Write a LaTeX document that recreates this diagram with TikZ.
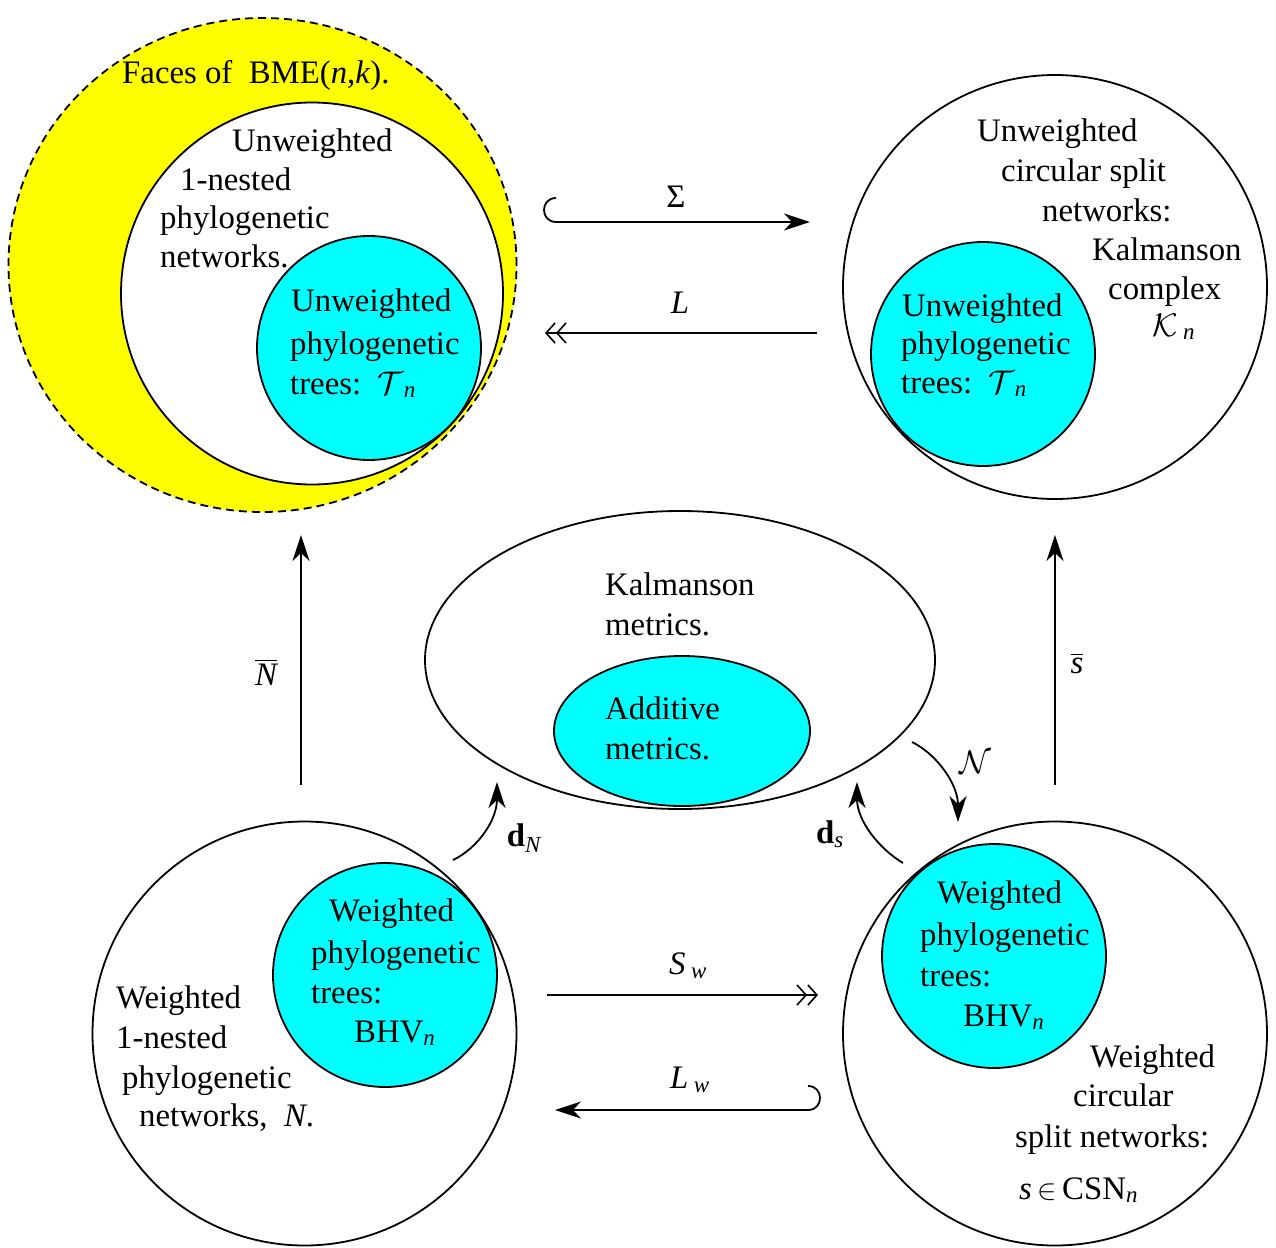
\documentclass[tikz,border=0pt]{standalone}
\usepackage{amsmath}
\usepackage{fontspec}
\setmainfont{Liberation Serif}
\usepackage{graphicx}
\usetikzlibrary{arrows.meta,shapes.geometric}
\definecolor{myyellow}{RGB}{255,255,0}
\definecolor{mycyan}{RGB}{0,255,255}
\newcommand{\mybigmath}[2][3.28]{\scalebox{#1}{\fontsize{10}{12}\selectfont$#2$}}
\begin{document}
\begin{tikzpicture}[x=1pt,y=-1pt,
  every node/.style={font=\fontsize{32.8}{38}\selectfont},
  ring/.style={circle,draw,line width=1.8pt,inner sep=0pt},
  oval/.style={ellipse,draw,line width=1.8pt,inner sep=0pt},
  lbl/.style={anchor=base west,inner sep=0pt},
  arr/.style={line width=1.8pt,-{Stealth[length=26pt,width=17pt,inset=8pt]}},
  darr/.style={line width=1.8pt,-{Straight Barb[length=9pt,width=20pt,line width=1.6pt] Straight Barb[length=9pt,width=20pt,line width=1.6pt]}},
]
\useasboundingbox (0,0) rectangle (1276,1247);

% top left
\node[oval, dash pattern=on 8pt off 5pt, fill=myyellow, minimum width=508pt, minimum height=494pt] (faces) at (262.5,265) {};
\node[ring, fill=white, minimum size=382pt] (unw1n) at (312,293.5) {};
\node[ring, fill=mycyan, minimum size=224pt] (treesTL) at (369,348) {};
\node[lbl] at (122,83) {Faces of\ \ BME(\textit{n},\textit{k}).};
\node[lbl] at (232,151) {Unweighted};
\node[lbl] at (180,190) {1-nested};
\node[lbl] at (160,228) {phylogenetic};
\node[lbl] at (160,267) {networks.};
\node[lbl] at (291,311) {Unweighted};
\node[lbl] at (290,354) {phylogenetic};
\node[lbl] at (290,394) {trees:\ \ \mybigmath{\mathcal{T}}$_{\textit{n}}$};

% top right
\node[ring, minimum size=424pt] (csnTR) at (1055,287) {};
\node[ring, fill=mycyan, minimum size=224pt] (treesTR) at (983,354) {};
\node[lbl] at (977,141) {Unweighted};
\node[lbl] at (1001,181) {circular split};
\node[lbl] at (1042,221) {networks:};
\node[lbl] at (1092,260) {Kalmanson};
\node[lbl] at (1108,299) {complex};
\node[lbl] at (1152,336) {\mybigmath{\mathcal{K}}\,$_{\textit{n}}$};
\node[lbl] at (902,316) {Unweighted};
\node[lbl] at (901,354) {phylogenetic};
\node[lbl] at (901,393) {trees:\ \ \mybigmath{\mathcal{T}}$_{\textit{n}}$};

% middle
\node[oval, fill=white, minimum width=510pt, minimum height=298pt] (kal) at (680,660) {};
\node[oval, fill=mycyan, minimum width=256pt, minimum height=150pt] (add) at (682,731) {};
\node[lbl] at (605,595) {Kalmanson};
\node[lbl] at (605,635) {metrics.};
\node[lbl] at (605,719) {Additive};
\node[lbl] at (605,759) {metrics.};

% bottom left
\node[ring, minimum size=424pt] (netBL) at (304.5,1033.5) {};
\node[ring, fill=mycyan, minimum size=224pt] (treesBL) at (385,975) {};
\node[lbl] at (116,1008) {Weighted};
\node[lbl] at (116,1048) {1-nested};
\node[lbl] at (122,1088) {phylogenetic};
\node[lbl] at (139,1126) {networks,\ \ \textit{N}.};
\node[lbl] at (329,921) {Weighted};
\node[lbl] at (311,963) {phylogenetic};
\node[lbl] at (311,1003) {trees:};
\node[lbl] at (354,1042) {BHV$_{\textit{n}}$};

% bottom right
\node[ring, minimum size=424pt] (csnBR) at (1055,1033.5) {};
\node[ring, fill=mycyan, minimum size=224pt] (treesBR) at (994,956) {};
\node[lbl] at (937,903) {Weighted};
\node[lbl] at (920,945) {phylogenetic};
\node[lbl] at (920,986) {trees:};
\node[lbl] at (963,1026) {BHV$_{\textit{n}}$};
\node[lbl] at (1090,1067) {Weighted};
\node[lbl] at (1073,1106) {circular};
\node[lbl] at (1015,1147) {split networks:};
\node[lbl] at (1019,1199) {\textit{s}\,\mybigmath[2.9]{\in}\,CSN$_{\textit{n}}$};

% horizontal arrows
\coordinate (sigS) at (556,198);
\coordinate (sigA) at (556,222);
\coordinate (sigE) at (810,222);
\draw[arr] (sigS) .. controls (540,198) and (540,222) .. (sigA) -- (sigE);
\node (sigL) at (676,197) {Σ};

\coordinate (lS) at (817,333);
\coordinate (lE) at (545,333);
\draw[darr] (lS) -- (lE);
\node (lL) at (680,303) {\textit{L}};

\coordinate (swS) at (547,995);
\coordinate (swE) at (818,995);
\draw[darr] (swS) -- (swE);
\node (swL) at (688,966) {\textit{S}\,$_{\textit{w}}$};

\coordinate (lwS) at (808,1086);
\coordinate (lwA) at (808,1110);
\coordinate (lwE) at (555,1110);
\draw[arr] (lwS) .. controls (824,1086) and (824,1110) .. (lwA) -- (lwE);
\node (lwL) at (690,1080) {\textit{L}\,$_{\textit{w}}$};

% vertical arrows
\coordinate (nbS) at (301,785);
\coordinate (nbE) at (301,535);
\draw[arr] (nbS) -- (nbE);
\node (nbL) at (266,672) {$\overline{\textit{N}}$};

\coordinate (sbS) at (1055,785);
\coordinate (sbE) at (1055,535);
\draw[arr] (sbS) -- (sbE);
\node (sbL) at (1077,663) {$\overline{\textit{s}}$};

% curved arrows
\coordinate (dnS) at (453,860);
\coordinate (dnE) at (497,782);
\draw[arr] (dnS) .. controls (478,848) and (497,820) .. (dnE);
\node (dnL) at (524,838) {\textbf{d}$_{\textit{N}}$};

\coordinate (dsS) at (903,863);
\coordinate (dsE) at (857,782);
\draw[arr] (dsS) .. controls (878,848) and (857,820) .. (dsE);
\node (dsL) at (830,834) {\textbf{d}$_{\textit{s}}$};

\coordinate (cnS) at (912,742);
\coordinate (cnE) at (958,822);
\draw[arr] (cnS) .. controls (938,755) and (958,785) .. (cnE);
\node (cnL) at (975,762) {\mybigmath{\mathcal{N}}};
\end{tikzpicture}
\end{document}
